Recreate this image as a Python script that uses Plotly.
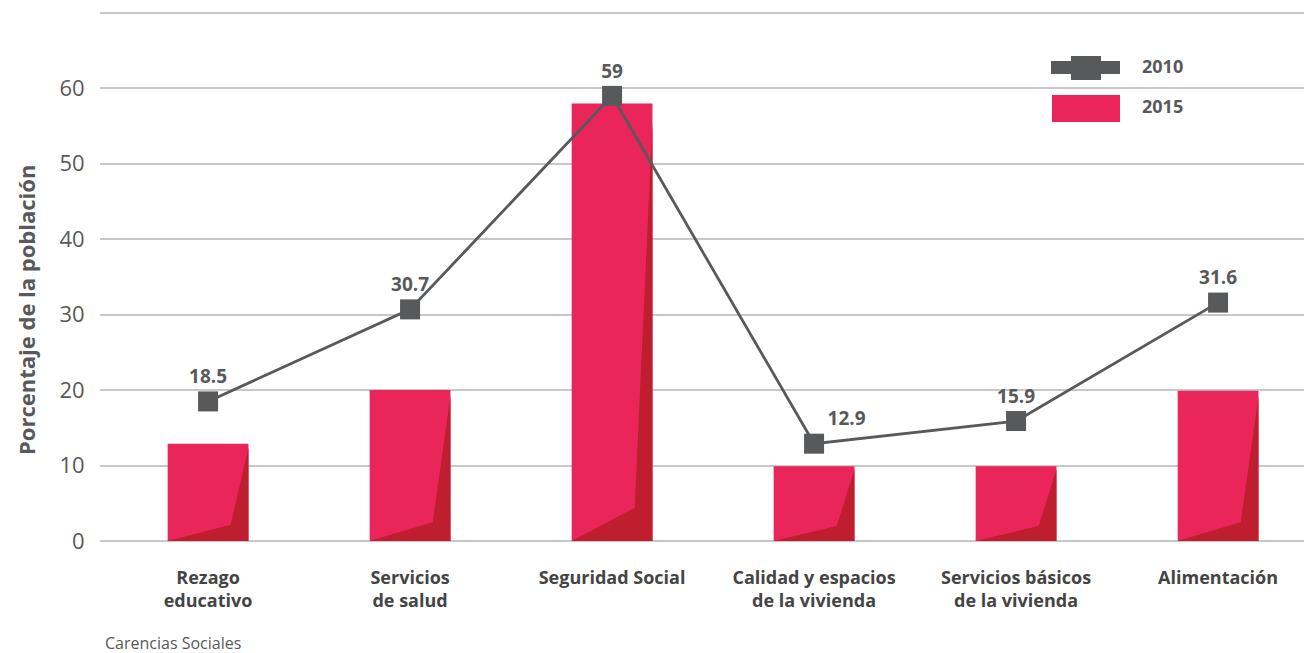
import plotly.graph_objects as go

categories = ["Rezago<br>educativo", "Servicios<br>de salud", "Seguridad Social",
              "Calidad y espacios<br>de la vivienda", "Servicios básicos<br>de la vivienda", "Alimentación"]
values_2015 = [12.9, 20.0, 58.0, 9.9, 9.9, 19.9]
values_2010 = [18.5, 30.7, 59, 12.9, 15.9, 31.6]
labels_2010 = ["18.5", "30.7", "59", "12.9", "15.9", "31.6"]
y_ticks = [0, 10, 20, 30, 40, 50, 60, 70]
y_ticktext = ["0", "10", "20", "30", "40", "50", "60", ""]

RED = "#e9255a"
DARK_RED = "#be1e2e"
GREY = "#58595b"
FONT = "Open Sans"
BAR_W = 0.4

# page has an 8px body margin; the figure is sized so the plot lands where the reference has it
OFF = 8
W, H = 1312 - OFF, 653 - OFF
PL, PR, PT, PB = 100, 1312, 11, 541  # plot area in page pixels


def px(X):
    return (X - PL) / (PR - PL)


def py(Y):
    return (PB - Y) / (PB - PT)


xs = list(range(len(categories)))

fig = go.Figure()

fig.add_trace(go.Bar(
    x=xs, y=values_2015, width=BAR_W, marker=dict(color=RED, line=dict(width=0)),
    name="2015", hoverinfo="skip"))

# decorative darker shading on the right side of each bar (derived from data)
sx, sy = [], []
for i, v in zip(xs, values_2015):
    xl, xr = i - BAR_W / 2, i + BAR_W / 2
    xk = xl + 0.78 * BAR_W
    sx += [xl, xk, xr, xr, xl, None]
    sy += [0, 1.5 + 0.05 * v, v * 0.96, 0, 0, None]
fig.add_trace(go.Scatter(
    x=sx, y=sy, mode="lines", fill="toself", fillcolor=DARK_RED,
    line=dict(width=0, color=DARK_RED), showlegend=False, hoverinfo="skip"))

positions = ["top center"] * len(xs)
positions[3] = "top right"
fig.add_trace(go.Scatter(
    x=xs, y=values_2010, mode="lines+markers+text", name="2010",
    line=dict(color=GREY, width=2.8),
    marker=dict(symbol="square", size=20, color=GREY),
    text=labels_2010, textposition=positions,
    textfont=dict(family=FONT, size=19, color=GREY, weight="bold"),
    hoverinfo="skip"))

# custom legend (drawn to match the reference's large legend symbols)
shapes = [
    dict(type="rect", xref="paper", yref="paper", x0=px(1051), x1=px(1120), y0=py(74), y1=py(61),
         fillcolor=GREY, line=dict(width=0)),
    dict(type="rect", xref="paper", yref="paper", x0=px(1071), x1=px(1101), y0=py(80), y1=py(56),
         fillcolor=GREY, line=dict(width=0)),
    dict(type="rect", xref="paper", yref="paper", x0=px(1052), x1=px(1120), y0=py(122), y1=py(95),
         fillcolor=RED, line=dict(width=0)),
]

annotations = [
    dict(text="2010", x=px(1140), y=py(66), xanchor="left", yanchor="middle"),
    dict(text="2015", x=px(1140), y=py(106), xanchor="left", yanchor="middle"),
]
for a in annotations:
    a.update(xref="paper", yref="paper", showarrow=False,
             font=dict(family=FONT, size=18, color=GREY, weight="bold"))
annotations += [
    dict(text="Porcentaje de la población", textangle=-90, x=px(26), y=py(310),
         xref="paper", yref="paper", showarrow=False, xanchor="center", yanchor="middle",
         font=dict(family=FONT, size=22, color=GREY, weight="bold")),
    dict(text="Carencias Sociales", x=px(103), y=py(643), xref="paper", yref="paper",
         showarrow=False, xanchor="left", yanchor="middle",
         font=dict(family=FONT, size=16, color=GREY)),
]

fig.update_layout(
    width=W, height=H,
    margin=dict(l=PL - OFF, r=0, t=PT - OFF, b=653 - PB),
    plot_bgcolor="white", paper_bgcolor="white",
    font=dict(family=FONT, color=GREY),
    showlegend=False,
    shapes=shapes,
    annotations=annotations,
    xaxis=dict(range=[-0.535, 5.465], tickvals=xs, ticktext=categories,
               showgrid=False, zeroline=False, showline=False,
               ticks="outside", ticklen=20, tickcolor="rgba(0,0,0,0)",
               tickfont=dict(family=FONT, size=18, color="#444444", weight="bold")),
    yaxis=dict(range=[0, 70.25], tickvals=y_ticks, ticktext=y_ticktext,
               showgrid=True, gridcolor="#c8c8c8", gridwidth=1.5,
               zeroline=True, zerolinecolor="#c8c8c8", zerolinewidth=1.5,
               showline=False, ticks="outside", ticklen=10, tickcolor="rgba(0,0,0,0)",
               tickfont=dict(family=FONT, size=22, color=GREY)),
)

fig.write_html("out.html")
